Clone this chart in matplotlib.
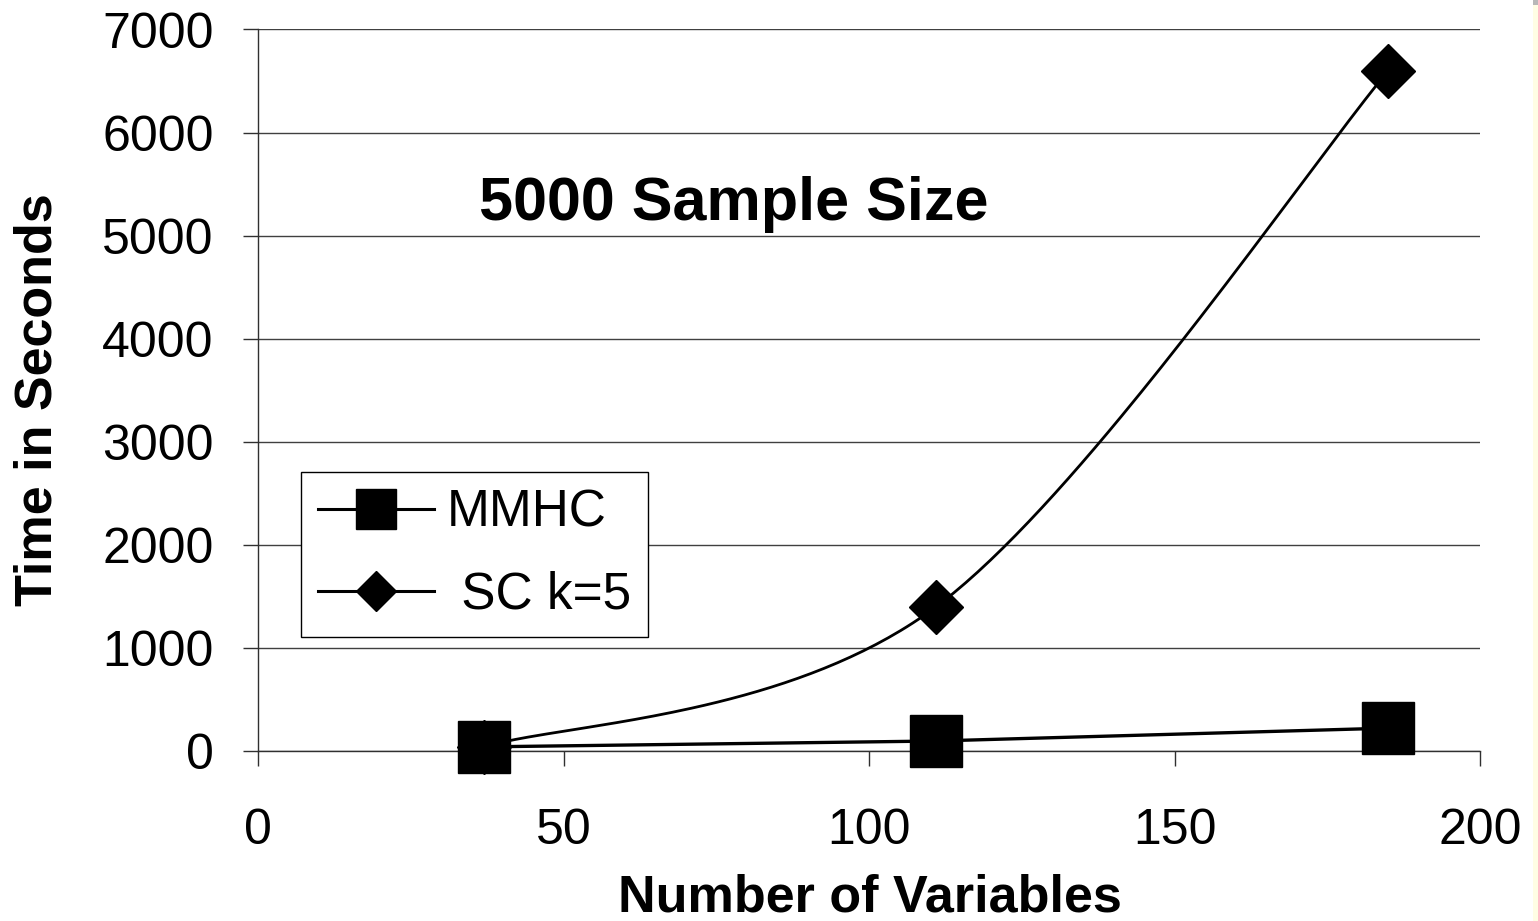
import numpy as np
import matplotlib
matplotlib.use("Agg")
import matplotlib.pyplot as plt
from matplotlib.lines import Line2D
from matplotlib.patches import Rectangle

# Run time versus network size (Alarm, Alarm3, Alarm5) at 5000 samples
num_vars = [37, 111, 185]
mmhc_time = [40, 97, 222]
sc_time = [40, 1400, 6600]
series_names = ["MMHC", " SC k=5"]
x_ticks = [0, 50, 100, 150, 200]
y_ticks = [0, 1000, 2000, 3000, 4000, 5000, 6000, 7000]

plt.rcParams["font.family"] = ["Liberation Sans", "DejaVu Sans"]

W, H = 1538, 921


def smooth_curve(xs, ys, n=80):
    """Piecewise cubic Bezier through the points (Catmull-Rom style tangents)."""
    pts = np.column_stack([xs, ys]).astype(float)
    out = []
    for i in range(len(pts) - 1):
        p0, p3 = pts[i], pts[i + 1]
        prev = pts[i - 1] if i > 0 else pts[i]
        nxt = pts[i + 2] if i + 2 < len(pts) else pts[i + 1]
        c1 = p0 + (p3 - prev) / 6.0
        c2 = p3 - (nxt - p0) / 6.0
        t = np.linspace(0, 1, n)[:, None]
        seg = ((1 - t) ** 3) * p0 + 3 * ((1 - t) ** 2) * t * c1 \
            + 3 * (1 - t) * (t ** 2) * c2 + (t ** 3) * p3
        out.append(seg if i == 0 else seg[1:])
    return np.vstack(out)


fig = plt.figure(figsize=(W / 100, H / 100), dpi=100)
fig.patch.set_facecolor("white")

left, right = 258, 1480
top, bottom = 29.5, 751
ax = fig.add_axes([left / W, 1 - bottom / H, (right - left) / W, (bottom - top) / H])

ax.set_xlim(0, 200)
ax.set_ylim(0, 7000)
ax.set_xticks(x_ticks)
ax.set_yticks(y_ticks)

for s in ("top", "right"):
    ax.spines[s].set_visible(False)
for s in ("left", "bottom"):
    ax.spines[s].set_color("#303030")
    ax.spines[s].set_linewidth(1.0)

ax.yaxis.grid(True, color="#404040", linewidth=1.0)
ax.set_axisbelow(True)

ax.tick_params(axis="both", direction="out", length=11, width=1.0,
               color="#303030", labelsize=36, labelcolor="black")
ax.tick_params(axis="x", pad=30)
ax.tick_params(axis="y", pad=21)

# SC k=5: smoothed line plus diamonds
curve = smooth_curve(num_vars, sc_time)
ax.plot(curve[:, 0], curve[:, 1], color="black", linewidth=2.0,
        solid_capstyle="butt", zorder=3, clip_on=False)
ax.plot(num_vars, sc_time, linestyle="none", marker="D", markersize=27,
        color="black", zorder=4, clip_on=False)

# MMHC: straight segments plus squares
ax.plot(num_vars, mmhc_time, color="black", linewidth=2.4, zorder=5,
        clip_on=False)
ax.plot(num_vars, mmhc_time, linestyle="none", marker="s", markersize=38,
        color="black", zorder=6, clip_on=False)

# Text
fig.text(734 / W, 1 - 220 / H, "5000 Sample Size", ha="center",
         va="baseline", fontsize=44, fontweight="bold")
fig.text(870 / W, 1 - 911 / H, "Number of Variables", ha="center",
         va="baseline", fontsize=37.5, fontweight="bold")
fig.text(38 / W, 1 - 400 / H, "Time in Seconds", ha="center", va="center",
         rotation=90, fontsize=37.5, fontweight="bold")

# Legend
handles = [
    Line2D([], [], color="black", linewidth=2.2, marker="s", markersize=29.5),
    Line2D([], [], color="black", linewidth=2.2, marker="D", markersize=20),
]
leg = fig.legend(handles, series_names, loc="upper left",
                 bbox_to_anchor=(301 / W, 1 - 472 / H),
                 bbox_transform=fig.transFigure, fontsize=37, frameon=True,
                 fancybox=False, edgecolor="black", framealpha=1,
                 borderpad=0.33, handlelength=2.26, handletextpad=0.25,
                 labelspacing=0.64, borderaxespad=0, numpoints=1)
leg.get_frame().set_linewidth(1.0)
leg.set_zorder(10)

# Thin strip along the right edge
fig.patches.append(Rectangle((1533 / W, 0), 5 / W, 1, transform=fig.transFigure,
                             facecolor="#fffde4", edgecolor="none"))
fig.patches.append(Rectangle((1533 / W, 1 - 5 / H), 5 / W, 5 / H,
                             transform=fig.transFigure, facecolor="#b8b8b8",
                             edgecolor="none"))

fig.savefig("out.png", dpi=100)
